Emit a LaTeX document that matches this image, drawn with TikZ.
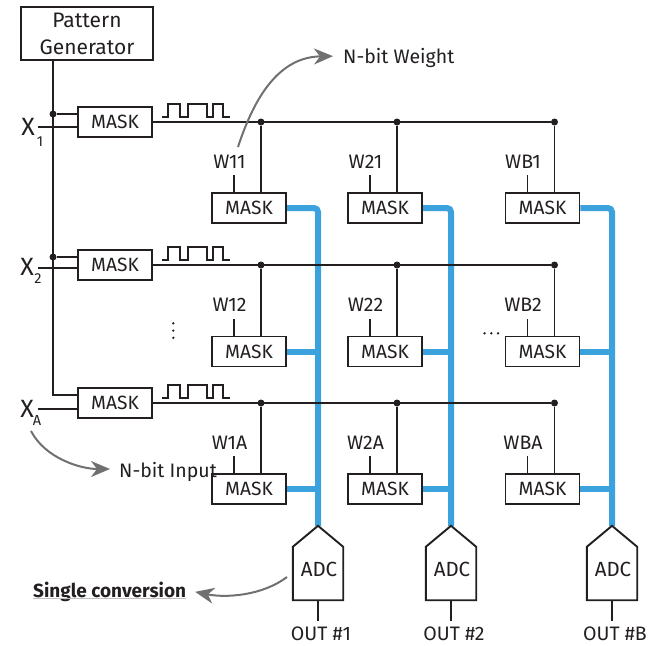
\documentclass[tikz,border=0pt]{standalone}
\usepackage{fontspec}
\setmainfont{Fira Sans}
\usetikzlibrary{arrows.meta}
\definecolor{wire}{RGB}{35,31,32}
\definecolor{busblue}{RGB}{60,162,221}
\definecolor{arrowgray}{RGB}{112,112,112}
\pgfdeclarelayer{bg}
\pgfsetlayers{bg,main}
\begin{document}
\begin{tikzpicture}[x=1pt,y=-1pt,
  box/.style={draw=wire,line width=1.9pt,minimum width=74pt,minimum height=30pt,inner sep=0pt,font=\fontsize{19.2}{20}\selectfont,text=wire},
  wireline/.style={draw=wire,line width=1.9pt},
  blueline/.style={draw=busblue,line width=6pt},
  jdot/.style={circle,fill=wire,inner sep=0pt,minimum size=7pt},
  smalldot/.style={circle,fill=wire,inner sep=0pt,minimum size=2.6pt},
  lbl/.style={font=\fontsize{19.5}{20}\selectfont,inner sep=0pt,text=wire},
  xlbl/.style={font=\fontsize{25}{26}\selectfont,inner sep=0pt,text=wire},
  sublbl/.style={font=\fontsize{14.5}{15}\selectfont,inner sep=0pt,text=wire},
  notearrow/.style={draw=arrowgray,line width=2pt,-{Stealth[length=19pt,width=16pt,inset=6pt]}},
  adcbox/.style={minimum width=50pt,minimum height=74pt,inner sep=0pt},
]
\useasboundingbox (0,0) rectangle (653,645);

% Pattern generator
\node[box,minimum width=132pt,minimum height=53pt,align=center,font=\fontsize{21}{27}\selectfont] (pg) at (87,33.5) {Pattern\\Generator};

% input masks
\node[box] (i1) at (115,122) {MASK};
\node[box] (i2) at (115,265) {MASK};
\node[box] (i3) at (115,403) {MASK};

% X labels
\node[xlbl,anchor=base] (x1) at (28,135) {X};
\node[sublbl,anchor=base] (s1) at (40,146) {1};
\node[xlbl,anchor=base] (x2) at (27,275) {X};
\node[sublbl,anchor=base] (s2) at (38,283) {2};
\node[xlbl,anchor=base] (x3) at (27,417) {X};
\node[sublbl,anchor=base] (s3) at (37,425) {A};

% ADC blocks
\foreach \cl/\bx in {1/318,2/451,3/612}{
  \node[adcbox] (adc\cl) at (\bx,563) {};
  \node[font=\fontsize{20.5}{20}\selectfont,inner sep=0pt,text=wire] (adct\cl) at (\bx+1,569.5) {ADC};
}

% weight masks, labels, junction dots
\foreach \rw/\ry/\my/\q in {1/122/208/1,2/265/351.5/2,3/403/489/A}{
  \foreach \cl/\x/\k in {1/249/1,2/385/2,3/542.5/B}{
    \node[box] (m\rw\cl) at (\x,\my) {MASK};
    \node[lbl] (w\rw\cl) at (\x-19.5,\my-46.5) {W\k\q};
    \node[jdot] (d\rw\cl) at (\x+12,\ry) {};
  }
}

% blue output lines (background)
\begin{pgfonlayer}{bg}
\foreach \cl in {1,2,3}{
  \draw[blueline,rounded corners=4pt] (m1\cl.east) -- (m1\cl.east -| adc\cl.north) -- (adc\cl.north);
  \draw[blueline] (m2\cl.east) -- (m2\cl.east -| adc\cl.north);
  \draw[blueline] (m3\cl.east) -- (m3\cl.east -| adc\cl.north);
}
\end{pgfonlayer}

% bus from pattern generator
\coordinate (b3) at (53,395);
\node[jdot] (b1) at (53,114) {};
\node[jdot] (b2) at (53,257) {};
\draw[wireline] (pg.south -| b3) -- (b3) -- (b3 -| i3.west);
\draw[wireline] (b1) -- (b1 -| i1.west);
\draw[wireline] (b2) -- (b2 -| i2.west);

% X input lines
\coordinate (xin1) at (38,127);
\coordinate (xin2) at (38,268);
\coordinate (xin3) at (38,409);
\draw[wireline] (xin1) -- (xin1 -| i1.west);
\draw[wireline] (xin2) -- (xin2 -| i2.west);
\draw[wireline] (xin3) -- (xin3 -| i3.west);

% row lines, verticals, label ticks
\foreach \rw in {1,2,3}{
  \draw[wireline] (i\rw.east) -- (d\rw3);
  \foreach \cl in {1,2,3}{
    \draw[wireline] (d\rw\cl) -- (d\rw\cl |- m\rw\cl.north);
    \draw[wireline] ([xshift=-15pt]m\rw\cl.north) -- ++(0,-17);
  }
}

% pulse trains
\foreach \rw/\py in {1/117,2/260,3/398}{
  \draw[draw=wire,line width=1.7pt] (162,\py) -- (168,\py) -- (168,\py-13) -- (180,\py-13) -- (180,\py)
    -- (188,\py) -- (188,\py-13) -- (207,\py-13) -- (207,\py) -- (213,\py) -- (213,\py-13)
    -- (223,\py-13) -- (223,\py) -- (230,\py);
}

% ADC outlines and outputs
\foreach \cl/\on in {1/1,2/2,3/B}{
  \draw[wireline,line join=miter] (adc\cl.north) -- ([yshift=-21pt]adc\cl.north east) -- (adc\cl.south east)
     -- (adc\cl.south west) -- ([yshift=-21pt]adc\cl.north west) -- cycle;
  \node[lbl,anchor=base] (out\cl) at ([xshift=3pt]adc\cl.south |- 0,640.5) {OUT \#\on};
  \draw[wireline] (adc\cl.south) -- ++(0,21);
}

% ellipses
\node[smalldot] (v1) at (173.3,323.3) {};
\node[smalldot] (v2) at (173.3,330.6) {};
\node[smalldot] (v3) at (173.3,337.8) {};
\node[smalldot] (h1) at (484.5,333.3) {};
\node[smalldot] (h2) at (491.3,333.3) {};
\node[smalldot] (h3) at (498,333.3) {};

% annotations
\node[lbl,anchor=base west] (nwt) at (343,63) {N-bit Weight};
\coordinate (nw0) at (238,147);
\draw[notearrow,shorten >=10pt] (nw0) .. controls (255,95) and (280,57) .. (nwt.west |- 0,56);

\node[lbl,anchor=base west] (nit) at (119,477) {N-bit Input};
\coordinate (ni0) at (31,431);
\draw[notearrow,shorten >=9pt] (ni0) .. controls (45,458) and (80,469) .. (nit.west |- 0,469);

\node[font=\bfseries\fontsize{19}{20}\selectfont,inner sep=0pt,text=wire,anchor=base west] (sct) at (33,597) {Single conversion};
\draw[draw=black!25,line width=1.2pt] (sct.base west) ++(0,1.8) -- ([yshift=-1.8pt]sct.base east);
\coordinate (sc0) at (287,577);
\draw[notearrow,shorten >=9pt] (sc0) .. controls (262,596) and (225,598) .. (sct.east |- 0,590);

\end{tikzpicture}
\end{document}
